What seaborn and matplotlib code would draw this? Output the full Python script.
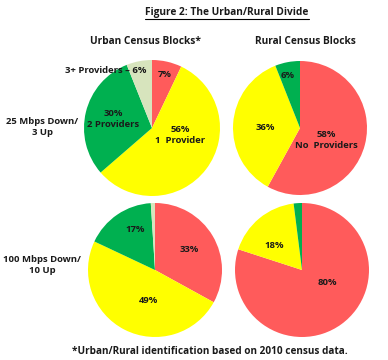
import matplotlib
matplotlib.use("Agg")
import matplotlib.pyplot as plt
import seaborn as sns
from matplotlib.lines import Line2D

sns.set_theme(style="white")
plt.rcParams["font.family"] = ["Open Sans", "DejaVu Sans"]

# data: shares of census blocks by number of providers
categories = ["No Providers", "1 Provider", "2 Providers", "3+ Providers"]
urban_25 = [7, 56, 30, 6]
rural_25 = [58, 36, 6, 0]
urban_100 = [33, 49, 17, 1]
rural_100 = [80, 18, 2, 0]

colors = sns.color_palette(["#FF5B5B", "#FFFF00", "#00B050", "#D7E4BD"])

W, H = 388, 360
fig = plt.figure(figsize=(W / 100, H / 100), dpi=100)

# pie centers / radius in pixels
pies = [
    (urban_25, 152, 128, 68,
     [("7%", 0.19, 0.78), ("56%\n1  Provider", 0.41, -0.10),
      ("30%\n2 Providers", -0.57, 0.13)]),
    (rural_25, 300, 128, 67,
     [("6%", -0.18, 0.79), ("36%", -0.52, 0.0),
      ("58%\nNo  Providers", 0.39, -0.18)]),
    (urban_100, 155, 270, 67,
     [("17%", -0.30, 0.61), ("33%", 0.51, 0.30), ("49%", -0.10, -0.45)]),
    (rural_100, 302, 270, 67,
     [("18%", -0.42, 0.36), ("80%", 0.38, -0.19)]),
]

lab_kw = dict(ha="center", va="center", fontsize=6.8, fontweight="bold",
              color="#1a1a1a", linespacing=1.3)

for vals, cx, cy, r, labels in pies:
    ax = fig.add_axes([(cx - r) / W, 1 - (cy + r) / H, 2 * r / W, 2 * r / H])
    ax.pie(vals, colors=colors, startangle=90, counterclock=False,
           wedgeprops=dict(linewidth=0))
    ax.set_xlim(-1, 1)
    ax.set_ylim(-1, 1)
    ax.set_aspect("auto")
    ax.axis("off")
    for txt, x, y in labels:
        ax.text(x, y, txt, **lab_kw)
    if vals is urban_25:
        ax.text(-0.68, 0.84, "3+ Providers \u2013 6%", **lab_kw)

head_kw = dict(ha="center", va="center", fontsize=7.3, fontweight="bold",
               color="#1a1a1a")
title = fig.text(227 / W, 1 - 13 / H, "Figure 2: The Urban/Rural Divide",
                 **head_kw)
fig.text(145 / W, 1 - 42 / H, "Urban Census Blocks*", **head_kw)
fig.text(305 / W, 1 - 42 / H, "Rural Census Blocks", **head_kw)
fig.text(42 / W, 1 - 127 / H, "25 Mbps Down/\n3 Up", **lab_kw)
fig.text(42 / W, 1 - 265 / H, "100 Mbps Down/\n10 Up", **lab_kw)
fig.text(210 / W, 1 - 351 / H,
         "*Urban/Rural identification based on 2010 census data.",
         ha="center", va="center", fontsize=7.2, fontweight="bold",
         color="#1a1a1a")

# underline the title
fig.canvas.draw()
bb = title.get_window_extent().transformed(fig.transFigure.inverted())
fig.add_artist(Line2D([bb.x0, bb.x1], [bb.y0 - 0.002, bb.y0 - 0.002],
                      color="black", linewidth=0.8, transform=fig.transFigure))

fig.savefig("out.png", dpi=100)
